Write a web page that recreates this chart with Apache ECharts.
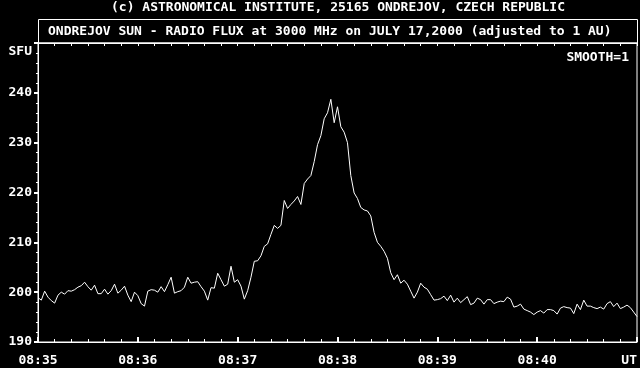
<!DOCTYPE html>
<html>
<head>
<meta charset="utf-8">
<script src="https://cdn.jsdelivr.net/npm/echarts@6/dist/echarts.min.js"></script>
<style>
html,body{margin:0;padding:0;background:#000;}
#chart{width:640px;height:368px;}
</style>
</head>
<body>
<div id="chart"></div>
<script>
// Time step between samples (seconds) and starting time 08:35:00 UT
var stepSeconds = 2;
var timeLabels = ['08:35', '08:36', '08:37', '08:38', '08:39', '08:40', 'UT'];
var yTicks = [190, 200, 210, 220, 230, 240];

// Radio flux (SFU), 2-second samples
var fluxA = [198.9,198.4,200.2,199.0,198.3,197.8,199.4,200.0,199.6,200.3,200.2,200.5,201.0,201.3,202.0,201.1,200.4,201.4,199.7,199.7,200.6,199.6,200.3,201.6,199.8,200.4,201.2,199.4,198.1,200.0,199.3,197.7,197.2,200.2,200.5,200.4,200.0,201.1,200.1,201.5,203.0,199.8,200.1,200.3,201.0];
var fluxB = [203.0,201.8,202.0,202.1,201.1,200.2,198.4,200.9,200.8,203.8,202.5,201.2,201.6,205.2,202.0,202.5,201.2,198.6,200.3,203.0,206.2,206.3,207.3,209.2,209.7,211.6,213.4,212.8,213.4,218.4,216.8,217.6,218.3,219.2,217.6,221.8,222.7,223.4,226.2,229.6,231.4,234.8,236.0,238.7,234.0];
var fluxC = [237.2,233.2,232.1,230.0,223.4,219.9,218.8,217.0,216.5,216.3,215.3,212.0,210.0,209.2,208.2,206.8,203.9,202.5,203.5,201.8,202.4,201.6,200.2,198.8,200.0,201.8,201.0,200.6,199.5,198.4,198.5,198.7,199.2,198.3,199.4,198.0,198.8,197.9,198.5,199.1,197.5,197.8,198.8,198.5,197.6];
var fluxD = [198.5,198.5,197.7,198.0,198.2,198.1,199.0,198.6,197.0,197.2,197.6,196.6,196.3,196.0,195.5,196.0,196.3,195.8,196.5,196.5,196.3,195.6,196.8,197.1,196.9,196.8,195.7,197.6,196.5,198.4,197.2,197.2,196.9,196.7,197.0,196.6,197.7,198.1,197.1,197.8,196.7,197.0,197.4,196.9,196.0,195.1];

var flux = fluxA.concat(fluxB, fluxC, fluxD);
var seriesData = flux.map(function (v, i) { return [i * stepSeconds, v]; });

var FONT = 'DejaVu Sans Mono';
var TFONT = 'bold 13px "DejaVu Sans Mono"';
var chart = echarts.init(document.getElementById('chart'), null, {renderer: 'canvas'});
chart.setOption({
  backgroundColor: '#000',
  animation: false,
  grid: {left: 38, right: 2, top: 43, bottom: 26, show: true, borderColor: '#fff', borderWidth: 1, backgroundColor: 'transparent'},
  xAxis: [{
    type: 'value', min: 0, max: 360, interval: 60, position: 'bottom',
    axisLine: {show: true, lineStyle: {color: '#fff', width: 1}},
    axisTick: {show: true, inside: true, length: 5, lineStyle: {color: '#fff', width: 2}},
    minorTick: {show: true, splitNumber: 6, length: 3, lineStyle: {color: '#fff', width: 1}},
    splitLine: {show: false},
    axisLabel: {
      color: '#fff', fontFamily: FONT, fontWeight: 'bold', fontSize: 13, margin: 12,
      alignMaxLabel: 'right',
      formatter: function (v) { return timeLabels[Math.round(v / 60)]; }
    }
  }, {
    type: 'value', min: 0, max: 360, interval: 10, position: 'top',
    axisLine: {show: true, lineStyle: {color: '#fff', width: 1}},
    axisTick: {show: true, inside: true, length: 3, lineStyle: {color: '#fff', width: 1}},
    axisLabel: {show: false},
    splitLine: {show: false}
  }],
  yAxis: {
    type: 'value', min: 190, max: 250, interval: 10,
    axisLine: {show: true, lineStyle: {color: '#fff', width: 1}},
    axisTick: {show: true, inside: false, length: 4, lineStyle: {color: '#fff', width: 2}},
    minorTick: {show: true, splitNumber: 5, length: 2, lineStyle: {color: '#fff', width: 1}},
    splitLine: {show: false},
    axisLabel: {
      color: '#fff', fontFamily: FONT, fontWeight: 'bold', fontSize: 13, margin: 6,
      formatter: function (v) { return yTicks.indexOf(v) >= 0 ? String(v) : ''; }
    }
  },
  graphic: [
    {type: 'text', x: 338, y: 8, style: {text: '(c) ASTRONOMICAL INSTITUTE, 25165 ONDREJOV, CZECH REPUBLIC', fill: '#fff', font: TFONT, textAlign: 'center', textVerticalAlign: 'middle'}},
    {type: 'rect', shape: {x: 38.5, y: 19.5, width: 599, height: 23.5}, style: {fill: 'transparent', stroke: '#fff', lineWidth: 1}},
    {type: 'text', x: 48, y: 32, style: {text: 'ONDREJOV SUN - RADIO FLUX at 3000 MHz on JULY 17,2000 (adjusted to 1 AU)', fill: '#fff', font: TFONT, textAlign: 'left', textVerticalAlign: 'middle'}},
    {type: 'text', x: 32, y: 52, style: {text: 'SFU', fill: '#fff', font: TFONT, textAlign: 'right', textVerticalAlign: 'middle'}},
    {type: 'text', x: 629, y: 58, style: {text: 'SMOOTH=1', fill: '#fff', font: TFONT, textAlign: 'right', textVerticalAlign: 'middle'}}
  ],
  series: [{
    type: 'line', xAxisIndex: 0, data: seriesData, showSymbol: false, symbol: 'none',
    lineStyle: {color: '#fff', width: 1}, smooth: false
  }]
});
</script>
</body>
</html>
